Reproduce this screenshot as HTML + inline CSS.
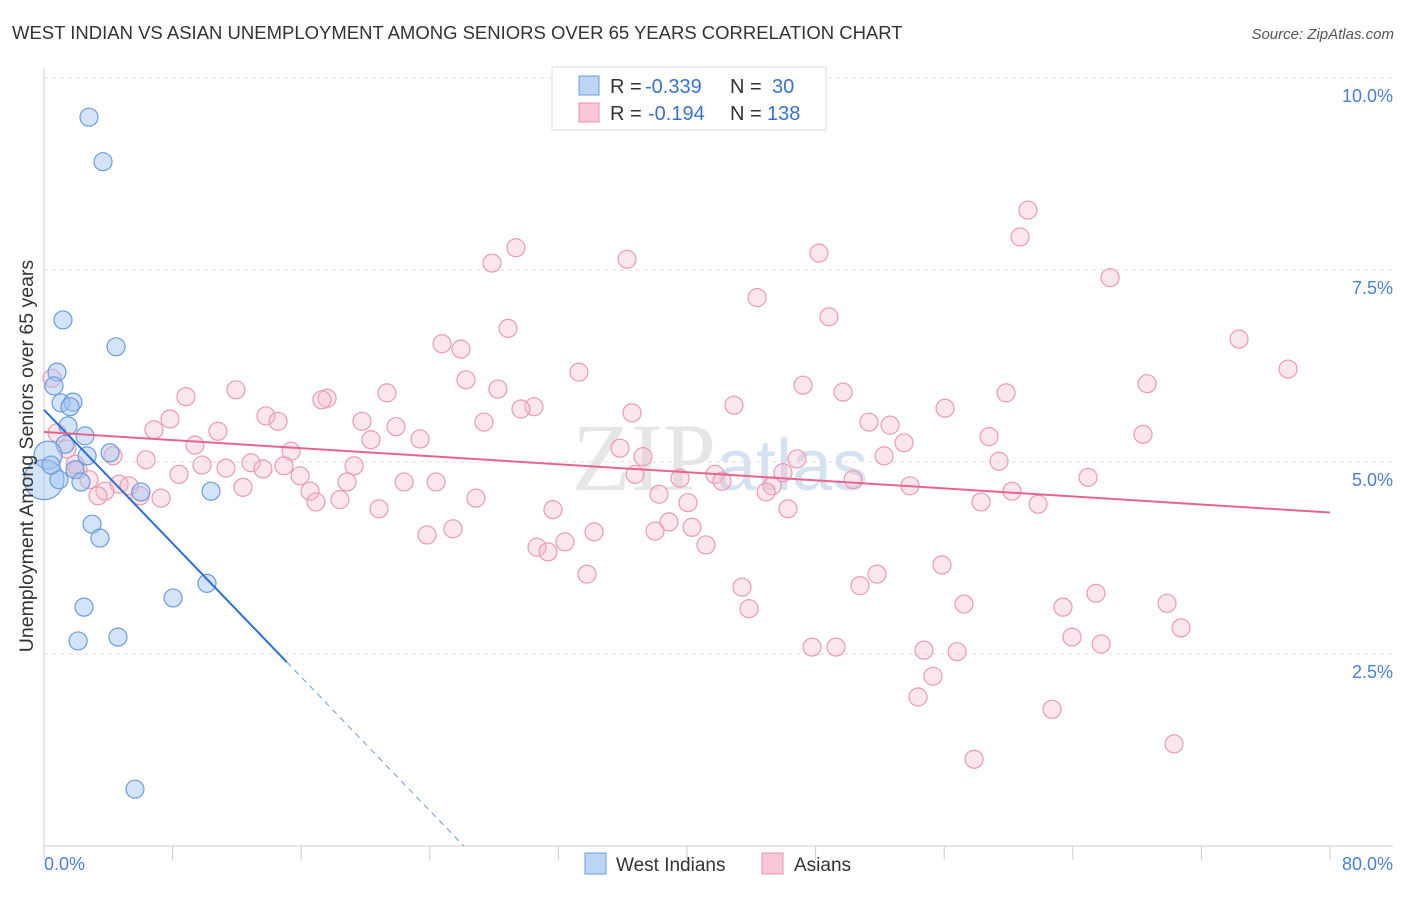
<!DOCTYPE html>
<html><head><meta charset="utf-8"><style>
body{margin:0;background:#fff;font-family:"Liberation Sans",sans-serif;}
</style></head><body>
<svg id="chart" width="1406" height="892" xmlns="http://www.w3.org/2000/svg" style="font-family:'Liberation Sans',sans-serif">
<text x="12" y="39" font-size="18.5" fill="#333">WEST INDIAN VS ASIAN UNEMPLOYMENT AMONG SENIORS OVER 65 YEARS CORRELATION CHART</text>
<text x="1394" y="39" font-size="15" fill="#555" font-style="italic" text-anchor="end">Source: ZipAtlas.com</text>
<text x="720" y="490" font-size="96" fill="#e6e6e6" text-anchor="middle" font-family="Liberation Serif">ZIP<tspan fill="#d6e2f2" font-family="Liberation Sans" font-size="72">atlas</tspan></text>
<g id="grid"></g>
<g id="axes"></g>
<g id="marks"></g>
<text transform="translate(33,456) rotate(-90)" font-size="19.5" fill="#333" text-anchor="middle">Unemployment Among Seniors over 65 years</text>
<g>
<rect x="552" y="67" width="274" height="63" fill="#fff" stroke="#ddd"/>
<rect x="579" y="76" width="20" height="19" fill="#bcd5f5" stroke="#6a9ce0"/>
<rect x="579" y="103" width="20" height="19" fill="#f8c8d6" stroke="#e890aa"/>
<text x="610" y="93" font-size="20" fill="#333">R = </text>
<text x="645" y="93" font-size="20" fill="#3a72d0">-0.339</text>
<text x="730" y="93" font-size="20" fill="#333">N =</text>
<text x="772" y="93" font-size="20" fill="#3a72d0">30</text>
<text x="610" y="120" font-size="20" fill="#333">R = </text>
<text x="648" y="120" font-size="20" fill="#3a72d0">-0.194</text>
<text x="730" y="120" font-size="20" fill="#333">N =</text>
<text x="767" y="120" font-size="20" fill="#3a72d0">138</text>
</g>
<g>
<rect x="585" y="853" width="21" height="21" fill="#bcd5f5" stroke="#6a9ce0"/>
<text x="616" y="871" font-size="19" fill="#333">West Indians</text>
<rect x="762" y="853" width="21" height="21" fill="#f8c8d6" stroke="#e890aa"/>
<text x="794" y="871" font-size="19" fill="#333">Asians</text>
</g>
</svg>
<script>
const xTicks=[0,8,16,24,32,40,48,56,64,72,80];
const yTicks=[2.5,5,7.5,10];
const yTickLabels=["2.5%","5.0%","7.5%","10.0%"];
const blueX=[2.8,3.67,1.18,4.48,0.81,0.62,1.06,1.80,1.62,1.49,2.55,1.31,4.11,2.68,0.25,1.93,0,0.93,2.30,6.03,10.39,2.99,3.48,8.03,10.14,2.49,2.12,4.60,5.66,0.44];
const blueY=[9.49,8.91,6.85,6.50,6.17,5.99,5.77,5.78,5.72,5.47,5.34,5.23,5.12,5.08,5.09,4.90,4.77,4.77,4.74,4.61,4.62,4.19,4.01,3.23,3.42,3.11,2.67,2.72,0.74,4.96];
const blueR=[9,9,9,9,9,9,9,9,9,9,9,9,9,9,14,9,20,9,9,9,9,9,9,9,9,9,9,9,9,9];
const pinkX=[32.85,61.21,60.72,29.36,27.87,36.27,48.21,66.32,44.36,28.87,48.83,74.34,24.76,25.94,77.39,33.28,26.25,0.50,11.94,28.24,21.34,8.83,17.61,17.29,47.22,68.62,49.71,59.85,30.48,29.67,56.05,42.92,36.58,13.81,7.84,14.56,19.78,27.37,51.32,52.63,6.84,10.82,21.90,68.37,20.34,23.39,58.79,53.50,0.81,9.39,15.37,35.83,1.43,52.26,37.26,4.29,46.84,59.41,6.35,12.88,9.83,13.62,14.93,19.29,11.32,1.93,2.12,8.40,15.93,41.74,45.97,64.95,36.77,39.57,42.18,50.33,18.85,22.40,24.39,4.67,5.29,2.80,3.79,12.38,16.55,53.87,45.29,3.36,38.26,44.92,5.97,7.28,18.41,16.92,26.87,40.06,60.22,58.29,61.84,20.84,31.66,46.28,38.88,40.31,38.01,25.44,23.83,34.22,32.41,30.67,31.35,41.18,33.78,51.82,55.86,50.76,43.42,65.44,69.86,57.23,63.39,43.86,70.73,63.95,65.76,47.78,49.27,54.74,56.80,55.30,54.37,62.71,70.30,57.86];
const pinkY=[9.47,8.28,7.93,7.79,7.59,7.64,7.72,7.40,7.14,6.74,6.89,6.60,6.54,6.47,6.21,6.17,6.07,6.09,5.94,5.95,5.90,5.85,5.83,5.81,6.00,6.02,5.91,5.90,5.72,5.69,5.70,5.74,5.64,5.60,5.56,5.53,5.53,5.52,5.52,5.48,5.42,5.40,5.46,5.36,5.29,5.30,5.33,5.25,5.38,5.22,5.14,5.18,5.17,5.08,5.07,5.08,5.04,5.01,5.03,4.99,4.96,4.91,4.95,4.95,4.92,4.97,4.90,4.84,4.82,4.84,4.86,4.80,4.84,4.79,4.75,4.77,4.74,4.74,4.74,4.71,4.69,4.77,4.62,4.67,4.62,4.69,4.69,4.56,4.58,4.61,4.56,4.53,4.51,4.48,4.53,4.47,4.62,4.48,4.45,4.39,4.38,4.39,4.22,4.15,4.10,4.13,4.05,4.09,3.96,3.89,3.83,3.92,3.54,3.54,3.66,3.39,3.37,3.29,3.16,3.15,3.11,3.09,2.84,2.72,2.63,2.59,2.59,2.55,2.53,2.21,1.94,1.78,1.33,1.13];
const blueTrend=[5.68,-0.2175]; // intercept, slope
const pinkTrend=[5.39,-0.0131];
const NS="http://www.w3.org/2000/svg";
const X0=44,X1=1330,Y0=846,YTOP=78;
function sx(v){return X0+(v/80)*(X1-X0);}
function sy(v){return Y0-(v/10)*(Y0-YTOP);}
function mk(tag,attrs,parent){const e=document.createElementNS(NS,tag);for(const k in attrs)e.setAttribute(k,attrs[k]);parent.appendChild(e);return e;}
const grid=document.getElementById('grid'),axes=document.getElementById('axes'),marks=document.getElementById('marks');
yTicks.forEach((t,i)=>{
 const l=mk('line',{x1:X0,x2:1393,y1:sy(t),y2:sy(t),stroke:'#ddd','stroke-dasharray':'4,4'},grid);
 
 
 const tx=mk('text',{x:1393,y:sy(t)+24,'font-size':18,fill:'#4a7fd4','text-anchor':'end'},axes);
 tx.textContent=yTickLabels[i];
 
 
});
const la=mk('line',{x1:X0,x2:X0,y1:68,y2:Y0,stroke:'#ccc'},axes);


const ba=mk('line',{x1:X0,x2:1393,y1:Y0,y2:Y0,stroke:'#ccc'},axes);


xTicks.forEach(t=>{
 const l=mk('line',{x1:sx(t),x2:sx(t),y1:Y0,y2:Y0+14,stroke:'#ccc'},axes);
 
 
});
const xl0=mk('text',{x:44,y:870,'font-size':18,fill:'#4a7fd4'},axes);xl0.textContent='0.0%';


const xl1=mk('text',{x:1393,y:870,'font-size':18,fill:'#4a7fd4','text-anchor':'end'},axes);xl1.textContent='80.0%';


pinkX.forEach((x,i)=>{
 const c=mk('circle',{cx:sx(x),cy:sy(pinkY[i]),r:9,fill:'rgba(246,182,202,0.35)',stroke:'#eb9ab3','stroke-width':1.2},marks);
 
 
});
blueX.forEach((x,i)=>{
 const c=mk('circle',{cx:sx(x),cy:sy(blueY[i]),r:blueR[i],fill:'rgba(160,196,240,0.45)',stroke:'#6a9ce0','stroke-width':1.2},marks);
 
 
});
const bxEnd=15.1, bxZero=-blueTrend[0]/blueTrend[1];
const bl=mk('line',{x1:sx(0),y1:sy(blueTrend[0]),x2:sx(bxEnd),y2:sy(blueTrend[0]+blueTrend[1]*bxEnd),stroke:'#2a6fd8','stroke-width':2},marks);


const bd=mk('line',{x1:sx(bxEnd),y1:sy(blueTrend[0]+blueTrend[1]*bxEnd),x2:sx(bxZero),y2:sy(0),stroke:'#6a9ce0','stroke-width':1,'stroke-dasharray':'6,5'},marks);


const pl=mk('line',{x1:sx(0),y1:sy(pinkTrend[0]),x2:sx(80),y2:sy(pinkTrend[0]+pinkTrend[1]*80),stroke:'#e8648e','stroke-width':2},marks);


</script>
</body></html>
